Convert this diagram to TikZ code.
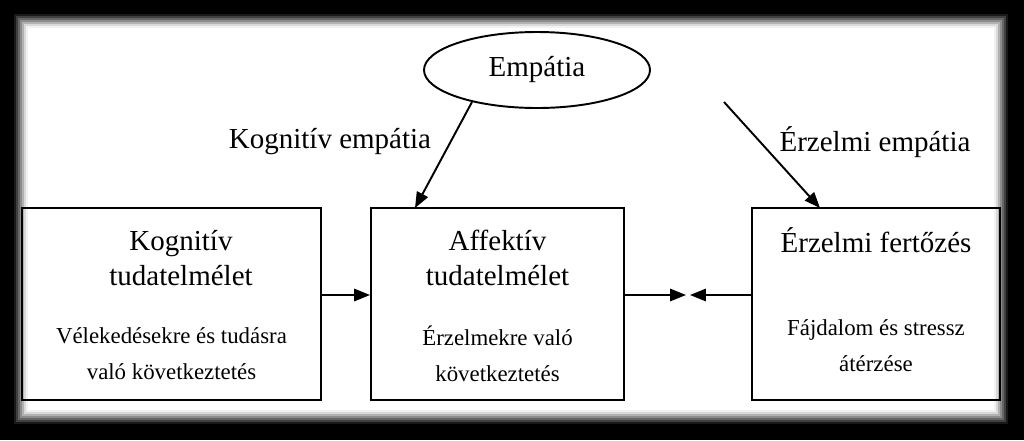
\documentclass[tikz,border=0pt]{standalone}
\usepackage{fontspec}
\setmainfont{Liberation Serif}
\usetikzlibrary{arrows.meta,shapes.geometric}
\begin{document}
\begin{tikzpicture}[x=0.02cm,y=-0.02cm,
  box/.style={draw,line width=1.1pt,inner sep=0pt},
  arr/.style={-{Triangle[length=9pt,width=7pt]},line width=1.1pt},
  ttl/.style={font=\fontsize{16.5}{20}\selectfont,align=center},
  sub/.style={font=\fontsize{13}{20.5}\selectfont,align=center}]
\fill[black] (0,0) rectangle (1024,440);
\foreach \i/\g in {0/10,2/25,4/40,6/55,8/70,10/85,12/95}{
  \fill[white!\g!black] (14+\i,14+\i) rectangle (1008-\i,424-\i);}
\fill[white] (28,28) rectangle (994,410);
\node[box,ellipse,minimum width=226*0.02cm,minimum height=76*0.02cm,ttl] (e) at (537,70) {Empátia};
\coordinate (e1) at (472,102);
\coordinate (e2) at (724,102);
\node[box,minimum width=299*0.02cm,minimum height=192*0.02cm] (l) at (171.5,304) {};
\node[box,minimum width=253*0.02cm,minimum height=192*0.02cm] (m) at (497.5,304) {};
\node[box,minimum width=248*0.02cm,minimum height=192*0.02cm] (r) at (876,304) {};
\node[ttl] (lt) at (181,258) {Kognitív\\tudatelmélet};
\node[sub] (ls) at (171.5,354) {Vélekedésekre és tudásra\\való következtetés};
\node[ttl] (mt) at (497.5,258) {Affektív\\tudatelmélet};
\node[sub] (ms) at (497.5,354) {Érzelmekre való\\következtetés};
\node[ttl] (rt) at (876,240) {Érzelmi fertőzés};
\node[sub] (rs) at (876,346) {Fájdalom és stressz\\átérzése};
\node[ttl] (kl) at (330,142) {Kognitív empátia};
\node[ttl] (el) at (875,142) {Érzelmi empátia};
\draw[arr] (e1) -- (415,208);
\draw[arr] (e2) -- (820,208);
\draw[arr] (l.east |- 0,295) -- (m.west |- 0,295);
\coordinate (c1) at (686,295);
\coordinate (c2) at (690,295);
\draw[arr] (m.east |- 0,295) -- (c1);
\draw[arr] (r.west |- 0,295) -- (c2);
\end{tikzpicture}
\end{document}
